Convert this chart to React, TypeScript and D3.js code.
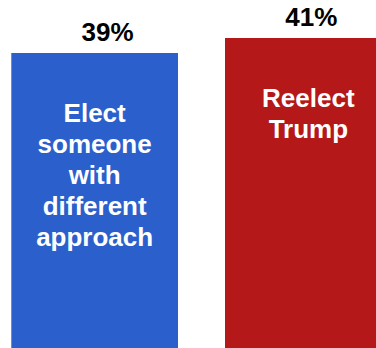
import React from "react";
import * as d3 from "d3";

const categories = ["Elect someone with different approach", "Reelect Trump"];
const values = [39, 41];
const valueLabels = ["39%", "41%"];
const barLines = [
  ["Elect", "someone", "with", "different", "approach"],
  ["Reelect", "Trump"],
];
const colors = ["#2b5fcb", "#b51818"];

const W = 376;
const H = 348;
const labelShift = [13, 3];

export default function App() {
  const x = d3
    .scaleBand<string>()
    .domain(categories)
    .range([11.3, 391.7])
    .paddingInner(0.22)
    .paddingOuter(0);
  const y = d3.scaleLinear().domain([0, 41]).range([345.5, 38]);
  const font = "'Liberation Sans', Arial, sans-serif";
  return (
    <svg
      width={W}
      height={H}
      style={{ position: "absolute", left: 0, top: 0, background: "#fff" }}
    >
      {categories.map((c, i) => {
        const x0 = x(c)!;
        const bw = x.bandwidth();
        const top = y(values[i]);
        const cx = x0 + bw / 2;
        return (
          <g key={c}>
            <rect x={x0} y={top} width={bw} height={H - top} fill={colors[i]} />
            <text
              x={cx + labelShift[i]}
              y={top - 12.5}
              textAnchor="middle"
              fontFamily={font}
              fontWeight="bold"
              fontSize={26}
              fill="#000"
            >
              {valueLabels[i]}
            </text>
            {barLines[i].map((ln, j) => (
              <text
                key={j}
                x={cx}
                y={top + 69 + j * 31}
                textAnchor="middle"
                fontFamily={font}
                fontWeight="bold"
                fontSize={26}
                fill="#fff"
              >
                {ln}
              </text>
            ))}
          </g>
        );
      })}
    </svg>
  );
}
